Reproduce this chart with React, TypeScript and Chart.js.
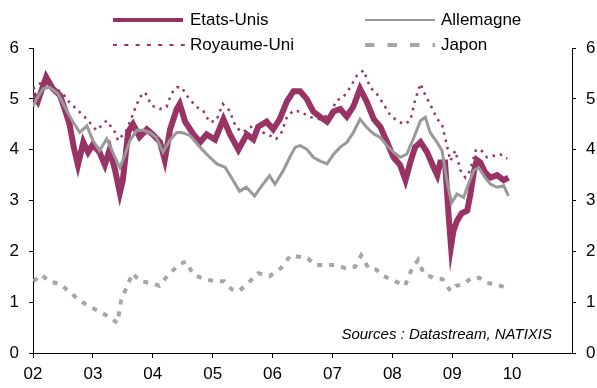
import React, { useEffect, useRef } from "react";
import { Chart, registerables } from "chart.js";

Chart.register(...registerables);

// ---------- DATA ----------
const yearTicks = [2002, 2003, 2004, 2005, 2006, 2007, 2008, 2009, 2010];
const yearLabels = ["02", "03", "04", "05", "06", "07", "08", "09", "10"];
const yTicks = [0, 1, 2, 3, 4, 5, 6];

const seriesNames = ["Etats-Unis", "Allemagne", "Royaume-Uni", "Japon"];

const usDates = [
  2002.00, 2002.08, 2002.22, 2002.33, 2002.45, 2002.53, 2002.61, 2002.68, 2002.75, 2002.84,
  2002.92, 2003.00, 2003.11, 2003.20, 2003.28, 2003.37, 2003.45, 2003.50, 2003.59, 2003.67,
  2003.78, 2003.90, 2004.00, 2004.12, 2004.20, 2004.29, 2004.40, 2004.45, 2004.54, 2004.68,
  2004.79, 2004.90, 2005.04, 2005.18, 2005.29, 2005.43, 2005.57, 2005.68, 2005.76, 2005.90,
  2006.01, 2006.12, 2006.24, 2006.35, 2006.46, 2006.57, 2006.68, 2006.79, 2006.91, 2007.02,
  2007.13, 2007.24, 2007.35, 2007.46, 2007.57, 2007.69, 2007.80, 2007.91, 2008.02, 2008.13,
  2008.22, 2008.30, 2008.38, 2008.47, 2008.58, 2008.69, 2008.75, 2008.80, 2008.88, 2008.94,
  2008.98, 2009.02, 2009.08, 2009.16, 2009.25, 2009.30, 2009.36, 2009.41, 2009.47, 2009.55,
  2009.64, 2009.75, 2009.86, 2009.94,
];
const usValues = [
  5.10, 4.95, 5.43, 5.20, 5.07, 4.80, 4.50, 4.05, 3.70, 4.15,
  3.95, 4.10, 3.95, 3.70, 4.00, 3.60, 3.15, 3.40, 4.35, 4.50,
  4.25, 4.40, 4.30, 4.15, 3.80, 4.40, 4.80, 4.90, 4.55, 4.30,
  4.15, 4.30, 4.20, 4.60, 4.30, 4.00, 4.30, 4.20, 4.45, 4.55,
  4.40, 4.60, 4.95, 5.15, 5.15, 5.00, 4.75, 4.65, 4.55, 4.75,
  4.80, 4.65, 4.85, 5.20, 4.95, 4.60, 4.45, 4.15, 3.85, 3.70,
  3.40, 3.75, 4.05, 4.15, 3.95, 3.65, 3.50, 3.75, 3.75, 2.70,
  2.10, 2.40, 2.60, 2.75, 2.80, 3.10, 3.55, 3.80, 3.75, 3.55,
  3.45, 3.50, 3.40, 3.45,
];

const deDates = [
  2002.00, 2002.06, 2002.17, 2002.28, 2002.42, 2002.56, 2002.67, 2002.78, 2002.90, 2003.00,
  2003.11, 2003.23, 2003.37, 2003.45, 2003.53, 2003.62, 2003.73, 2003.84, 2003.95, 2004.06,
  2004.17, 2004.28, 2004.40, 2004.48, 2004.62, 2004.79, 2004.90, 2005.07, 2005.21, 2005.34,
  2005.45, 2005.56, 2005.70, 2005.84, 2005.95, 2006.04, 2006.18, 2006.30, 2006.38, 2006.46,
  2006.57, 2006.68, 2006.79, 2006.91, 2007.02, 2007.13, 2007.24, 2007.35, 2007.46, 2007.57,
  2007.69, 2007.80, 2007.91, 2008.02, 2008.13, 2008.24, 2008.36, 2008.47, 2008.55, 2008.63,
  2008.75, 2008.83, 2008.91, 2008.99, 2009.08, 2009.19, 2009.27, 2009.36, 2009.44, 2009.55,
  2009.64, 2009.75, 2009.86, 2009.94,
];
const deValues = [
  4.85, 5.00, 5.20, 5.23, 5.10, 4.77, 4.54, 4.34, 4.47, 4.18,
  3.98, 4.21, 3.85, 3.65, 3.88, 4.18, 4.38, 4.38, 4.34, 4.24,
  3.95, 4.18, 4.34, 4.34, 4.28, 4.05, 3.91, 3.72, 3.65, 3.40,
  3.18, 3.26, 3.09, 3.32, 3.49, 3.32, 3.59, 3.88, 4.05, 4.08,
  4.01, 3.85, 3.78, 3.72, 3.91, 4.05, 4.14, 4.34, 4.60, 4.44,
  4.31, 4.24, 4.08, 3.95, 3.85, 3.91, 4.24, 4.57, 4.64, 4.34,
  4.14, 3.98, 3.39, 2.95, 3.13, 3.06, 3.32, 3.59, 3.65, 3.45,
  3.32, 3.26, 3.29, 3.09,
];

const ukDates = [
  2002.00, 2002.17, 2002.39, 2002.50, 2002.61, 2002.78, 2002.90, 2003.06, 2003.23, 2003.37,
  2003.42, 2003.56, 2003.67, 2003.78, 2003.87, 2003.98, 2004.12, 2004.23, 2004.31, 2004.40,
  2004.48, 2004.59, 2004.73, 2004.84, 2004.95, 2005.06, 2005.17, 2005.28, 2005.39, 2005.50,
  2005.67, 2005.84, 2005.95, 2006.06, 2006.15, 2006.24, 2006.35, 2006.46, 2006.63, 2006.79,
  2006.96, 2007.07, 2007.18, 2007.30, 2007.41, 2007.52, 2007.63, 2007.74, 2007.85, 2007.97,
  2008.08, 2008.19, 2008.30, 2008.38, 2008.47, 2008.55, 2008.63, 2008.75, 2008.83, 2008.88,
  2008.97, 2009.05, 2009.14, 2009.22, 2009.30, 2009.39, 2009.47, 2009.58, 2009.69, 2009.80,
  2009.92,
];
const ukValues = [
  5.20, 5.35, 5.20, 5.10, 4.93, 4.74, 4.60, 4.38, 4.57, 4.34,
  4.18, 4.38, 4.70, 5.03, 5.13, 4.87, 4.80, 4.84, 5.10, 5.23,
  5.23, 5.03, 4.84, 4.77, 4.54, 4.57, 4.90, 4.77, 4.44, 4.34,
  4.47, 4.34, 4.28, 4.21, 4.34, 4.64, 4.77, 4.75, 4.64, 4.60,
  4.70, 4.97, 5.03, 5.23, 5.46, 5.56, 5.23, 5.10, 4.90, 4.67,
  4.57, 4.50, 4.57, 4.97, 5.30, 5.07, 4.90, 4.60, 4.50, 4.24,
  3.78, 3.98, 3.59, 3.45, 3.59, 3.98, 4.01, 3.85, 3.88, 3.91,
  3.82,
];

const jpDates = [
  2002.01, 2002.14, 2002.27, 2002.46, 2002.62, 2002.78, 2002.97, 2003.12, 2003.28, 2003.41,
  2003.47, 2003.63, 2003.66, 2003.79, 2003.98, 2004.11, 2004.24, 2004.43, 2004.55, 2004.68,
  2004.87, 2005.06, 2005.19, 2005.32, 2005.44, 2005.57, 2005.76, 2005.95, 2006.14, 2006.30,
  2006.46, 2006.59, 2006.71, 2006.90, 2007.03, 2007.22, 2007.38, 2007.48, 2007.60, 2007.73,
  2007.86, 2008.05, 2008.21, 2008.33, 2008.43, 2008.52, 2008.68, 2008.84, 2008.97, 2009.06,
  2009.19, 2009.32, 2009.45, 2009.57, 2009.73, 2009.89,
];
const jpValues = [
  1.41, 1.54, 1.41, 1.35, 1.19, 1.03, 0.90, 0.81, 0.70, 0.59,
  1.03, 1.48, 1.57, 1.41, 1.38, 1.32, 1.51, 1.73, 1.80, 1.54,
  1.45, 1.41, 1.41, 1.25, 1.22, 1.35, 1.57, 1.51, 1.67, 1.92,
  1.89, 1.86, 1.73, 1.73, 1.73, 1.67, 1.70, 1.92, 1.67, 1.64,
  1.51, 1.41, 1.32, 1.67, 1.83, 1.57, 1.48, 1.45, 1.22, 1.32,
  1.35, 1.48, 1.48, 1.38, 1.35, 1.29,
];

const sourceNote = "Sources : Datastream, NATIXIS";

// ---------- STYLE ----------
const PURPLE = "#993366";
const GRAY = "#999999";
const JP_GRAY = "#A6A6A6";
const FONT_FAMILY = "'Liberation Sans', Arial, sans-serif";

function toPoints(xs: number[], ys: number[]) {
  const n = Math.min(xs.length, ys.length);
  const out: { x: number; y: number }[] = [];
  for (let i = 0; i < n; i++) out.push({ x: xs[i], y: ys[i] });
  return out;
}

function Swatch({ kind }: { kind: string }) {
  let line;
  if (kind === "Etats-Unis")
    line = <line x1={0} y1={5} x2={70} y2={5} stroke={PURPLE} strokeWidth={4} />;
  else if (kind === "Royaume-Uni")
    line = <line x1={0} y1={5} x2={72} y2={5} stroke={PURPLE} strokeWidth={2} strokeDasharray="4 7.3" />;
  else if (kind === "Allemagne")
    line = <line x1={0} y1={5} x2={70} y2={5} stroke={GRAY} strokeWidth={2} />;
  else
    line = <line x1={0} y1={5} x2={70} y2={5} stroke={JP_GRAY} strokeWidth={4} strokeDasharray="9.5 13" />;
  return (
    <svg width={72} height={10} style={{ display: "block" }}>
      {line}
    </svg>
  );
}

const legendPos: Record<string, { x: number; y: number; tx: number }> = {
  "Etats-Unis": { x: 113, y: 20, tx: 190 },
  "Royaume-Uni": { x: 113, y: 45, tx: 190 },
  Allemagne: { x: 365, y: 20, tx: 441 },
  Japon: { x: 365, y: 45, tx: 441 },
};

export default function App() {
  const ref = useRef<HTMLCanvasElement>(null);

  useEffect(() => {
    document.body.style.margin = "0";
    const font = { family: FONT_FAMILY, size: 17 };
    const axisCommon = (position: string) => ({
      position,
      min: 0,
      max: 6,
      afterBuildTicks: (s: any) => {
        s.ticks = yTicks.map((v) => ({ value: v }));
      },
      afterFit: (s: any) => {
        s.width = position === "left" ? 33 : 25;
      },
      ticks: {
        font,
        color: "#000",
        padding: 10,
        callback: (v: any) => String(v),
      },
      grid: { drawOnChartArea: false, drawTicks: true, tickLength: 4, color: "#000", lineWidth: 1 },
      border: { display: true, color: "#000", width: 1 },
    });

    const chart = new Chart(ref.current as HTMLCanvasElement, {
      type: "line",
      data: {
        datasets: [
          {
            label: seriesNames[2],
            data: toPoints(ukDates, ukValues),
            borderColor: PURPLE,
            borderWidth: 2.5,
            borderDash: [2.5, 5],
            pointRadius: 0,
            tension: 0,
            order: 0,
            yAxisID: "y",
          },
          {
            label: seriesNames[1],
            data: toPoints(deDates, deValues),
            borderColor: GRAY,
            borderWidth: 3,
            pointRadius: 0,
            tension: 0,
            order: 1,
            yAxisID: "y",
          },
          {
            label: seriesNames[3],
            data: toPoints(jpDates, jpValues),
            borderColor: JP_GRAY,
            borderWidth: 4,
            borderDash: [5, 7],
            pointRadius: 0,
            tension: 0,
            order: 2,
            yAxisID: "y",
          },
          {
            label: seriesNames[0],
            data: toPoints(usDates, usValues),
            borderColor: PURPLE,
            borderWidth: 6,
            pointRadius: 0,
            tension: 0,
            order: 3,
            yAxisID: "y",
          },
        ],
      },
      options: {
        responsive: false,
        animation: false,
        layout: { padding: { top: 48, left: 0, right: 0, bottom: 0 } },
        plugins: { legend: { display: false }, tooltip: { enabled: false } },
        scales: {
          x: {
            type: "linear",
            min: 2002,
            max: 2011,
            afterBuildTicks: (s: any) => {
              s.ticks = yearTicks.map((v) => ({ value: v }));
            },
            afterFit: (s: any) => {
              s.height = 35;
            },
            ticks: {
              font,
              color: "#000",
              padding: 6,
              maxRotation: 0,
              autoSkip: false,
              callback: (v: any) => {
                const i = yearTicks.indexOf(Number(v));
                return i >= 0 ? yearLabels[i] : "";
              },
            },
            grid: { drawOnChartArea: false, drawTicks: true, tickLength: 5, color: "#000", lineWidth: 1 },
            border: { display: true, color: "#000", width: 1 },
          },
          y: axisCommon("left") as any,
          y2: axisCommon("right") as any,
        },
      },
    } as any);
    return () => chart.destroy();
  }, []);

  return (
    <div style={{ position: "relative", width: 597, height: 388, fontFamily: FONT_FAMILY }}>
      <canvas ref={ref} width={597} height={388} style={{ position: "absolute", left: 0, top: 0 }} />
      {seriesNames.map((name) => {
        const p = legendPos[name];
        return (
          <React.Fragment key={name}>
            <div style={{ position: "absolute", left: p.x, top: p.y - 5 }}>
              <Swatch kind={name} />
            </div>
            <div
              style={{
                position: "absolute",
                left: p.tx,
                top: p.y - 10,
                lineHeight: "20px",
                fontSize: 17,
                color: "#000",
                whiteSpace: "nowrap",
              }}
            >
              {name}
            </div>
          </React.Fragment>
        );
      })}
      <div
        style={{
          position: "absolute",
          right: 45,
          top: 324,
          lineHeight: "20px",
          fontSize: 15,
          fontStyle: "italic",
          color: "#000",
          whiteSpace: "nowrap",
        }}
      >
        {sourceNote}
      </div>
    </div>
  );
}
